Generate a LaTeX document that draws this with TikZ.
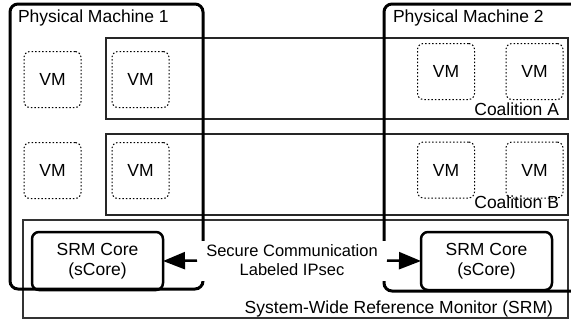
\documentclass[tikz,border=0pt]{standalone}
\usepackage{fontspec}
\setmainfont{Liberation Sans}
\usetikzlibrary{arrows.meta}
\begin{document}
\begin{tikzpicture}[x=1pt,y=-1pt,
  every node/.style={font=\fontsize{17.5}{20}\selectfont, inner sep=0pt, outer sep=0pt},
  pm/.style={draw, line width=3pt, rounded corners=8pt},
  coal/.style={draw=black!85, line width=1.1pt},
  vmbox/.style={draw, line width=1pt, dash pattern=on 1.5pt off 2pt, rounded corners=6pt, minimum width=57pt, minimum height=56pt},
  core/.style={draw, line width=2.5pt, rounded corners=7pt, minimum width=131pt, minimum height=58pt, align=center},
  lbl/.style={anchor=base west},
  rlbl/.style={anchor=base east},
  arr/.style={-{Triangle[length=22pt 0 0,width=17pt 0 0]}, line width=2.5pt}
]
\useasboundingbox (0,0) rectangle (571,322);
\clip (0,0) rectangle (571,322);
\fill[white] (0,0) rectangle (571,322);

% coalition and SRM frames
\node[coal, minimum width=462pt, minimum height=81pt] (coalA) at (337,78.5) {};
\node[coal, minimum width=462pt, minimum height=81pt] (coalB) at (337,174.5) {};
\node[coal, draw=black!80, minimum width=545pt, minimum height=98pt] (srm) at (295.5,269) {};

\node[rlbl] (coalAlbl) at (559,115) {Coalition A};
\node[rlbl] (coalBlbl) at (559,208) {Coalition B};
\node[rlbl] (srmlbl) at (553,313) {System-Wide Reference Monitor (SRM)};

% VMs
\node[vmbox] (vm11) at (52.5,79.5) {VM};
\node[vmbox] (vm12) at (140.5,79.5) {VM};
\node[vmbox] (vm13) at (446,71.5) {VM};
\node[vmbox] (vm14) at (534.5,71.5) {VM};
\node[vmbox] (vm21) at (52.5,170.5) {VM};
\node[vmbox] (vm22) at (140.5,170.5) {VM};
\node[vmbox] (vm23) at (446,170) {VM};
\node[vmbox] (vm24) at (534.5,170) {VM};

% physical machines
\node[pm, minimum width=193pt, minimum height=285pt] (pm1) at (106.5,146.5) {};
\node[pm, minimum width=236pt, minimum height=287pt] (pm2) at (502,147.5) {};
\node[lbl] (pm1lbl) at (18,22) {Physical Machine 1};
\node[lbl] (pm2lbl) at (393,22) {Physical Machine 2};

% SRM cores
\node[core] (core1) at (97.5,261) {SRM Core\\(sCore)};
\node[core] (core2) at (486.5,261) {SRM Core\\(sCore)};

% secure communication
\node[fill=white, minimum width=190pt, minimum height=40pt, align=center,
      font=\fontsize{16.5}{19}\selectfont] (comm) at (292,260.5) {Secure Communication\\Labeled IPsec};
\draw[arr] (comm.west) -- (core1.east);
\draw[arr] (comm.east) -- (core2.west);
\end{tikzpicture}
\end{document}
